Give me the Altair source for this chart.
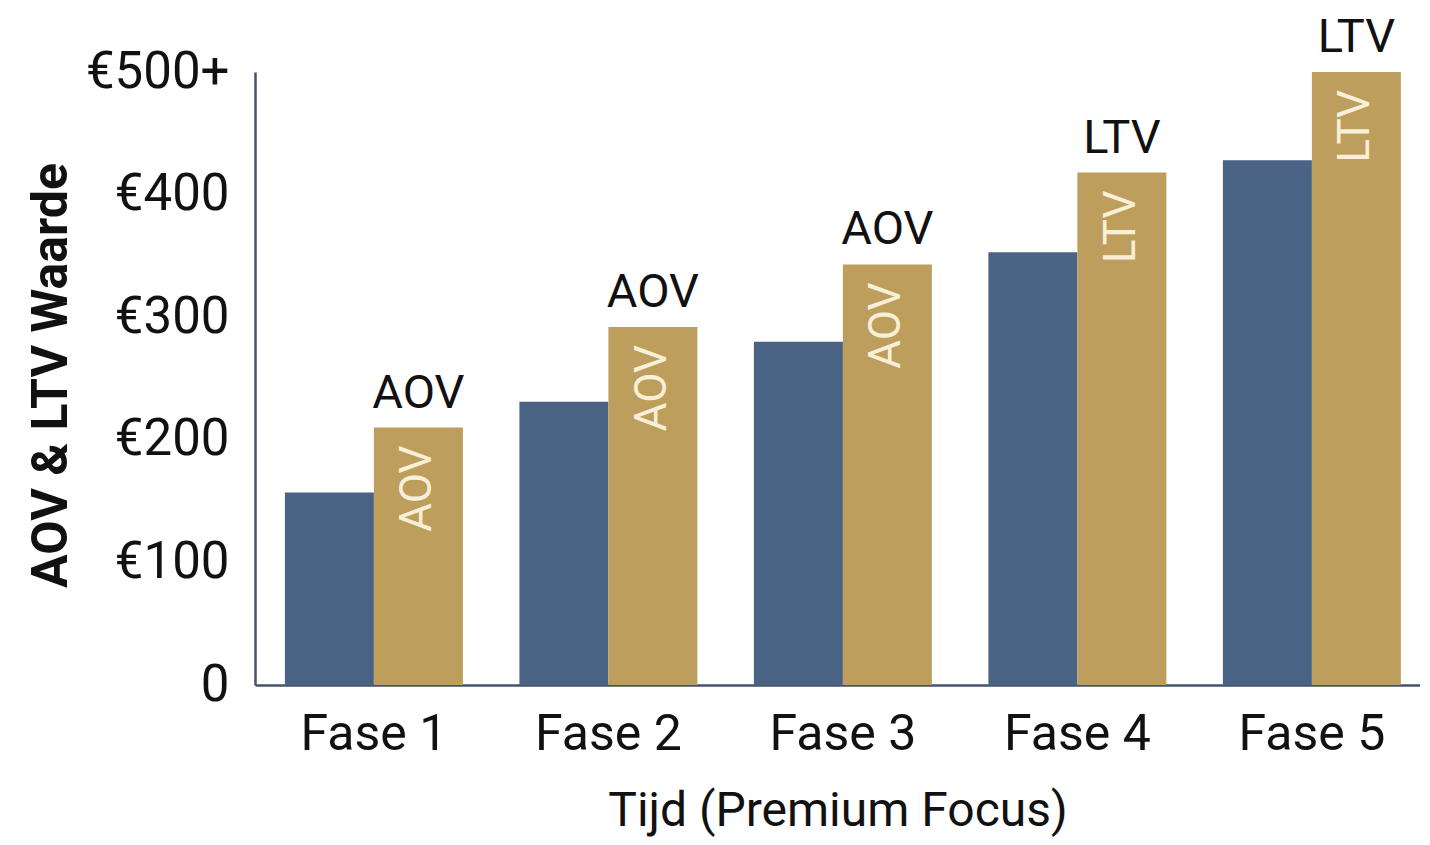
import altair as alt
import pandas as pd

fases = ["Fase 1", "Fase 2", "Fase 3", "Fase 4", "Fase 5"]
basis = [157, 231, 280, 353, 428]
premium = [210, 292, 343, 418, 500]
labels = ["AOV", "AOV", "AOV", "LTV", "LTV"]
series = ["Basis", "Premium"]
y_ticks = [0, 100, 200, 300, 400, 500]

rows = []
for f, b, p, l in zip(fases, basis, premium, labels):
    rows.append({"fase": f, "serie": series[0], "waarde": b, "label": l})
    rows.append({"fase": f, "serie": series[1], "waarde": p, "label": l})
df = pd.DataFrame(rows)

FONT = "Roboto"

x_enc = alt.X(
    "fase:N",
    sort=fases,
    title="Tijd (Premium Focus)",
    scale=alt.Scale(paddingInner=0.241, paddingOuter=0.1045, align=0.61),
    axis=alt.Axis(
        labelAngle=0, labelFontSize=50, labelFont=FONT, labelColor="#111111",
        labelPadding=24, ticks=False, grid=False, domainColor="#46536a", domainWidth=2.5,
        titleFontSize=48, titleFont=FONT, titleFontWeight="normal", titleColor="#111111",
        titlePadding=28,
    ),
)
xo_enc = alt.XOffset("serie:N", sort=series, scale=alt.Scale(paddingInner=0, paddingOuter=0))
y_scale = alt.Scale(domain=[0, 500], nice=False)

bars = alt.Chart(df).mark_bar().encode(
    x=x_enc,
    xOffset=xo_enc,
    y=alt.Y(
        "waarde:Q",
        scale=y_scale,
        title="AOV & LTV Waarde",
        axis=alt.Axis(
            values=y_ticks, grid=False, ticks=False, labelFontSize=51, labelFont=FONT,
            labelColor="#111111", labelPadding=26,
            labelExpr="datum.value == 0 ? '0' : (datum.value == 500 ? '€500+' : '€' + datum.value)",
            domainColor="#46536a", domainWidth=2.5,
            titleFontSize=50, titleFont=FONT, titleFontWeight="bold", titleColor="#111111",
            titleX=-204, titleY=303, titleBaseline="middle", titleAngle=-90, titleAnchor="middle",
        ),
    ),
    color=alt.Color("serie:N", sort=series, legend=None,
                    scale=alt.Scale(domain=series, range=["#4a6284", "#bd9e5d"])),
)

prem = alt.Chart(df).transform_filter(alt.datum.serie == "Premium")
tx = alt.X("fase:N", sort=fases)
ty = alt.Y("waarde:Q", scale=y_scale)

top_text = prem.mark_text(
    font=FONT, fontSize=47, color="#111111", baseline="alphabetic", align="center", dy=-20
).encode(x=tx, xOffset=xo_enc, y=ty, text="label:N")

inner_text = prem.mark_text(
    font=FONT, fontSize=44, color="#f7efd6", baseline="middle", align="right", angle=270, dx=-18
).encode(x=tx, xOffset=xo_enc, y=ty, text="label:N")

chart = (
    alt.layer(bars, top_text, inner_text)
    .properties(
        width=1165, height=613,
        autosize=alt.AutoSizeParams(type="none"),
        padding={"left": 247, "top": 64, "right": 0, "bottom": 152},
        background="white",
    )
    .configure_view(strokeWidth=0, stroke="transparent")
    .configure_axis(grid=False)
)

chart.save("out.html", embed_options={"renderer": "svg", "actions": False})
